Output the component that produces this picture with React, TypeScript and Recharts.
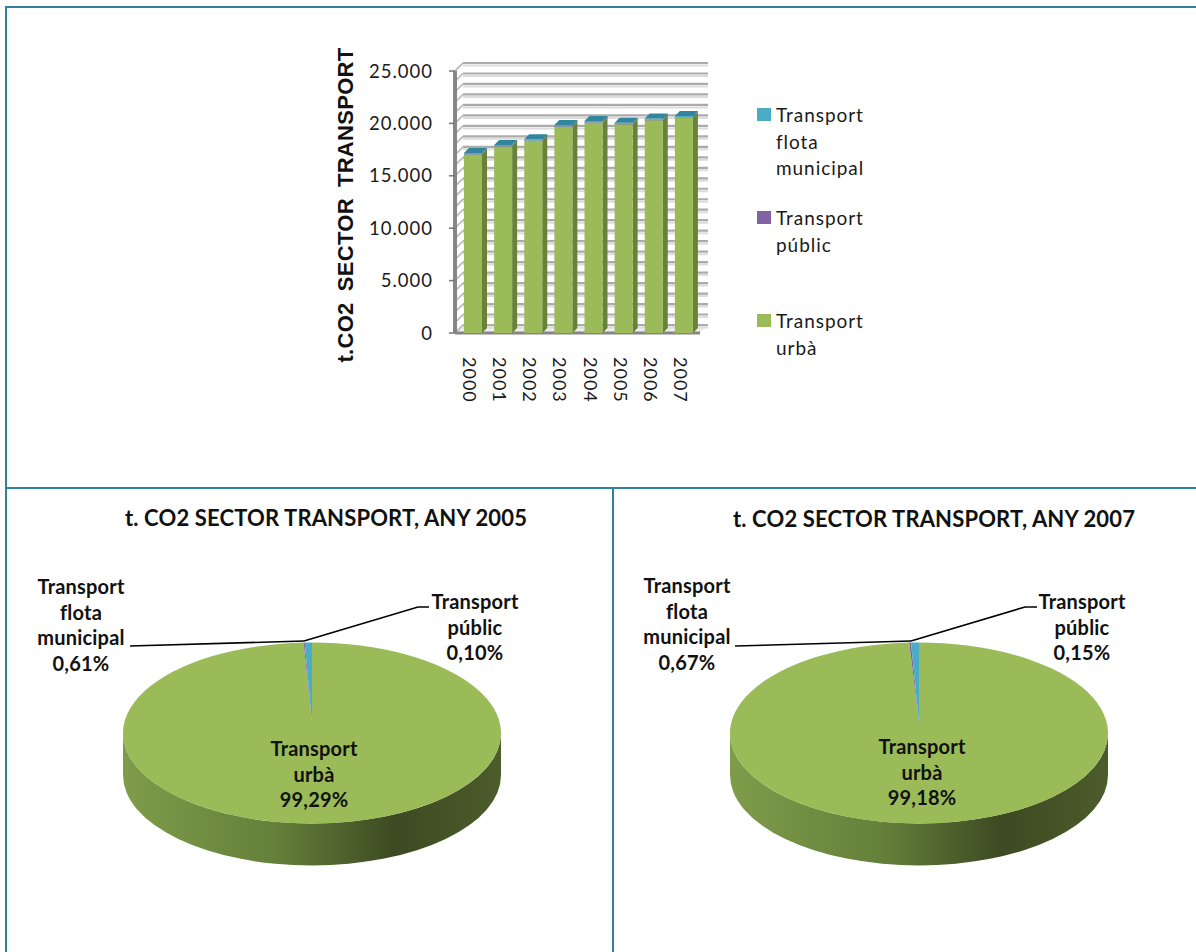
import React from "react";
import { Bar, BarChart, CartesianGrid, Legend, Pie, PieChart, XAxis, YAxis } from "recharts";

const years = ["2000", "2001", "2002", "2003", "2004", "2005", "2006", "2007"];
const urbanTonnes = [17050, 17810, 18350, 19710, 20090, 19930, 20310, 20530];
const publicTonnes = [18, 18, 19, 20, 20, 20, 25, 31];
const fleetTonnes = [105, 110, 112, 120, 122, 122, 130, 139];
const yTicks = [0, 5000, 10000, 15000, 20000, 25000];
const gridValues = [0, 1000, 2000, 3000, 4000, 5000, 6000, 7000, 8000, 9000, 10000, 11000, 12000, 13000, 14000, 15000, 16000, 17000, 18000, 19000, 20000, 21000, 22000, 23000, 24000, 25000];

const seriesNames = ["Transport urbà", "Transport públic", "Transport flota municipal"];
const sliceLabels = [["Transport", "urbà"], ["Transport", "públic"], ["Transport", "flota", "municipal"]];
const shares2005 = [99.29, 0.1, 0.61];
const shares2007 = [99.18, 0.15, 0.67];
const shareText2005 = ["99,29%", "0,10%", "0,61%"];
const shareText2007 = ["99,18%", "0,15%", "0,67%"];

const GREEN = "#9BBB59";
const PURPLE = "#8064A2";
const TEAL = "#4BACC6";
const BORDER = "#2E8299";
const LATO = "Lato, 'Noto Sans', sans-serif";

const barRows = years.map((year, i) => ({
  year,
  urban: urbanTonnes[i],
  public: publicTonnes[i],
  fleet: fleetTonnes[i],
}));

const DEPTH = 5;
const WALL = 8;

// Extruded bar segment; the top cap is only drawn on the last series of the stack.
function bar3d(front: string, side: string, cap?: string) {
  return (p: any) => {
    const x = p.x + 3;
    const { y, width: w, height: h } = p;
    return (
      <g>
        <polygon points={`${x + w},${y} ${x + w + DEPTH},${y - DEPTH} ${x + w + DEPTH},${y + h - DEPTH} ${x + w},${y + h}`} fill={side} />
        <rect x={x} y={y} width={w} height={Math.max(h, 0.5)} fill={front} />
        {cap && <polygon points={`${x},${y} ${x + DEPTH},${y - DEPTH} ${x + w + DEPTH},${y - DEPTH} ${x + w},${y}`} fill={cap} />}
      </g>
    );
  };
}

// Grid line on the back wall plus its diagonal along the side wall.
function wallLine(p: any) {
  const { x1, x2, y1 } = p;
  const right = x2 + 12;
  const isFloor = y1 > 330;
  return (
    <g key={p.key}>
      {isFloor && <polygon points={`${x1},${y1} ${x1 + WALL},${y1 - WALL} ${right},${y1 - WALL} ${right - WALL},${y1}`} fill="#EDEDED" />}
      <line x1={x1 + WALL} y1={y1 - WALL + 2.5} x2={right} y2={y1 - WALL + 2.5} stroke="#DCDCDC" strokeWidth={2} />
      <line x1={x1 + WALL} y1={y1 - WALL} x2={right} y2={y1 - WALL} stroke="#ABABAB" strokeWidth={2.2} />
      <line x1={x1} y1={y1} x2={x1 + WALL} y2={y1 - WALL} stroke="#BDBDBD" strokeWidth={1.8} />
      {isFloor && <line x1={x1} y1={y1} x2={right - WALL} y2={y1} stroke="#868686" strokeWidth={3} />}
    </g>
  );
}

function YearTick(p: any) {
  return (
    <text x={p.x} y={p.y + 16} transform={`rotate(90 ${p.x} ${p.y + 16})`} dominantBaseline="central" fontFamily={LATO} fontSize={18} letterSpacing={1} fill="#1a1a1a">
      {p.payload.value}
    </text>
  );
}

function LegendList({ payload }: any) {
  return (
    <div>
      {(payload ?? []).map((row: any) => (
        <div key={row.value} style={{ position: "relative", height: 103, width: 100, paddingLeft: 19, fontFamily: LATO, fontSize: 19, letterSpacing: 0.95, lineHeight: "26.5px", color: "#1a1a1a" }}>
          <span style={{ position: "absolute", left: 0, top: 6, width: 14, height: 13, background: row.color }} />
          {row.value}
        </div>
      ))}
    </div>
  );
}

function EmissionsBars() {
  return (
    <BarChart width={1196} height={488} data={barRows} margin={{ top: 71, right: 500, bottom: 95, left: 385 }} barSize={18} style={{ position: "absolute", left: 0, top: 0 }}>
      <CartesianGrid vertical={false} horizontalValues={gridValues} horizontal={wallLine} />
      <XAxis dataKey="year" height={60} axisLine={false} tickLine={false} tick={<YearTick />} interval={0} />
      <YAxis
        width={70}
        domain={[0, 25000]}
        ticks={yTicks}
        interval={0}
        axisLine={{ stroke: "#868686", strokeWidth: 4 }}
        tickLine={{ stroke: "#777777", strokeWidth: 1.5 }}
        tickSize={6}
        tickMargin={16}
        tickFormatter={(v: number) => v.toLocaleString("de-DE")}
        tick={{ fontFamily: LATO, fontSize: 18.5, letterSpacing: 1, fill: "#1a1a1a" }}
      />
      <text x={345} y={205} transform="rotate(-90 345 205)" textAnchor="middle" dominantBaseline="central" fontFamily="'Liberation Sans', Arial, sans-serif" fontWeight={700} fontSize={22} letterSpacing={0.3} fill="#111">
        {"t.CO2\u00a0\u2009SECTOR\u00a0\u2009TRANSPORT"}
      </text>
      <Bar dataKey="urban" name={seriesNames[0]} stackId="t" fill={GREEN} isAnimationActive={false} shape={bar3d(GREEN, "#688238")} />
      <Bar dataKey="public" name={seriesNames[1]} stackId="t" fill={PURPLE} isAnimationActive={false} shape={bar3d(PURPLE, "#5A4672")} />
      <Bar dataKey="fleet" name={seriesNames[2]} stackId="t" fill={TEAL} isAnimationActive={false} shape={bar3d(TEAL, "#347889", "#31859C")} />
      <Legend layout="vertical" align="center" verticalAlign="middle" content={<LegendList />} wrapperStyle={{ left: 757, top: 102, width: 130 }} />
    </BarChart>
  );
}

const TILT = 90.5 / 189;
const RIM = 42;
const APEX_LIFT = 10;

// Tilted pie slice: a squashed sector on top of the visible part of its rim.
function tiltedSlice(wallFill: string) {
  return (p: any) => {
    const { cx, cy, outerRadius: rx, startAngle, endAngle, fill } = p;
    const ry = rx * TILT;
    const at = (deg: number) => {
      const a = (deg * Math.PI) / 180;
      return [cx + rx * Math.cos(a), cy - ry * Math.sin(a)];
    };
    const [sx, sy] = at(startAngle);
    const [ex, ey] = at(endAngle);
    const large = Math.abs(endAngle - startAngle) > 180 ? 1 : 0;
    const sweep = endAngle < startAngle ? 1 : 0;
    const top = `M${cx},${cy - APEX_LIFT} L${sx},${sy} A${rx},${ry} 0 ${large} ${sweep} ${ex},${ey} Z`;
    const showRim = Math.abs(endAngle - startAngle) > 180;
    const rim = `M${cx - rx},${cy} A${rx},${ry} 0 0 0 ${cx + rx},${cy} L${cx + rx},${cy + RIM} A${rx},${ry} 0 0 1 ${cx - rx},${cy + RIM} Z`;
    return (
      <g>
        {showRim && <path d={rim} fill={wallFill} />}
        <path d={top} fill={fill} />
      </g>
    );
  };
}

type PieProps = {
  id: string;
  left: number;
  cx: number;
  title: string;
  titleX: number;
  titleY: number;
  shares: number[];
  shareText: string[];
  labelAt: { x: number; y: number; lineTo: number[][] }[];
};

function SharePie({ id, left, cx, title, titleX, titleY, shares, shareText, labelAt }: PieProps) {
  const colors = [GREEN, PURPLE, TEAL];
  const rows = seriesNames.map((name, i) => ({ name, value: shares[i], fill: colors[i] }));
  const sliceLabel = (p: any) => {
    const spot = labelAt[p.index];
    const lines = [...sliceLabels[p.index], shareText[p.index]];
    return (
      <text key={p.index} textAnchor="middle" fontFamily={LATO} fontWeight={700} fontSize={20} letterSpacing={0.2} fill="#111">
        {lines.map((line, i) => (
          <tspan key={line} x={spot.x} y={spot.y + i * 25.5}>{line}</tspan>
        ))}
      </text>
    );
  };
  const leader = (p: any) => {
    const pts = labelAt[p.index].lineTo;
    if (!pts.length) return <g key={p.index} />;
    return <polyline key={p.index} points={pts.map((q) => q.join(",")).join(" ")} fill="none" stroke="#000" strokeWidth={1.6} />;
  };
  return (
    <PieChart width={580} height={464} margin={{ top: 0, right: 0, bottom: 0, left: 0 }} style={{ position: "absolute", left, top: 488 }}>
      <defs>
        <linearGradient id={id} x1="0" y1="0" x2="1" y2="0">
          <stop offset="0" stopColor="#7F9C4A" />
          <stop offset="0.4" stopColor="#65803A" />
          <stop offset="0.72" stopColor="#3D4A22" />
          <stop offset="1" stopColor="#4C5C2B" />
        </linearGradient>
      </defs>
      <text x={titleX} y={titleY} textAnchor="middle" dominantBaseline="central" fontFamily={LATO} fontWeight={700} fontSize={22} letterSpacing={0.15} fill="#111">{title}</text>
      <Pie
        data={rows}
        dataKey="value"
        nameKey="name"
        cx={cx}
        cy={245}
        outerRadius={189}
        startAngle={90}
        endAngle={-270}
        stroke="none"
        isAnimationActive={false}
        shape={tiltedSlice(`url(#${id})`)}
        label={sliceLabel}
        labelLine={leader}
        fill={GREEN}
      />
    </PieChart>
  );
}

const labels2005 = [
  { x: 302, y: 268, lineTo: [] },
  { x: 463, y: 121, lineTo: [[292, 153], [406, 119], [417, 119]] },
  { x: 69, y: 106, lineTo: [[118, 158], [292, 153]] },
];
const labels2007 = [
  { x: 298, y: 266, lineTo: [] },
  { x: 458, y: 121, lineTo: [[287, 153], [401, 119], [413, 119]] },
  { x: 63, y: 105, lineTo: [[111, 158], [287, 153]] },
];

export default function App() {
  const rule = (left: number, top: number, width: number, height: number) => (
    <div style={{ position: "absolute", left, top, width, height, background: BORDER }} />
  );
  return (
    <div style={{ position: "absolute", left: 0, top: 0, width: 1196, height: 952, background: "#fff", overflow: "hidden" }}>
      {rule(5, 6, 1191, 2)}
      {rule(5, 6, 2, 946)}
      {rule(5, 487, 1191, 2)}
      {rule(612, 487, 2, 465)}
      <EmissionsBars />
      <SharePie id="rim05" left={12} cx={300} title="t. CO2 SECTOR TRANSPORT, ANY 2005" titleX={314} titleY={29} shares={shares2005} shareText={shareText2005} labelAt={labels2005} />
      <SharePie id="rim07" left={624} cx={295} title="t. CO2 SECTOR TRANSPORT, ANY 2007" titleX={310} titleY={30} shares={shares2007} shareText={shareText2007} labelAt={labels2007} />
    </div>
  );
}
